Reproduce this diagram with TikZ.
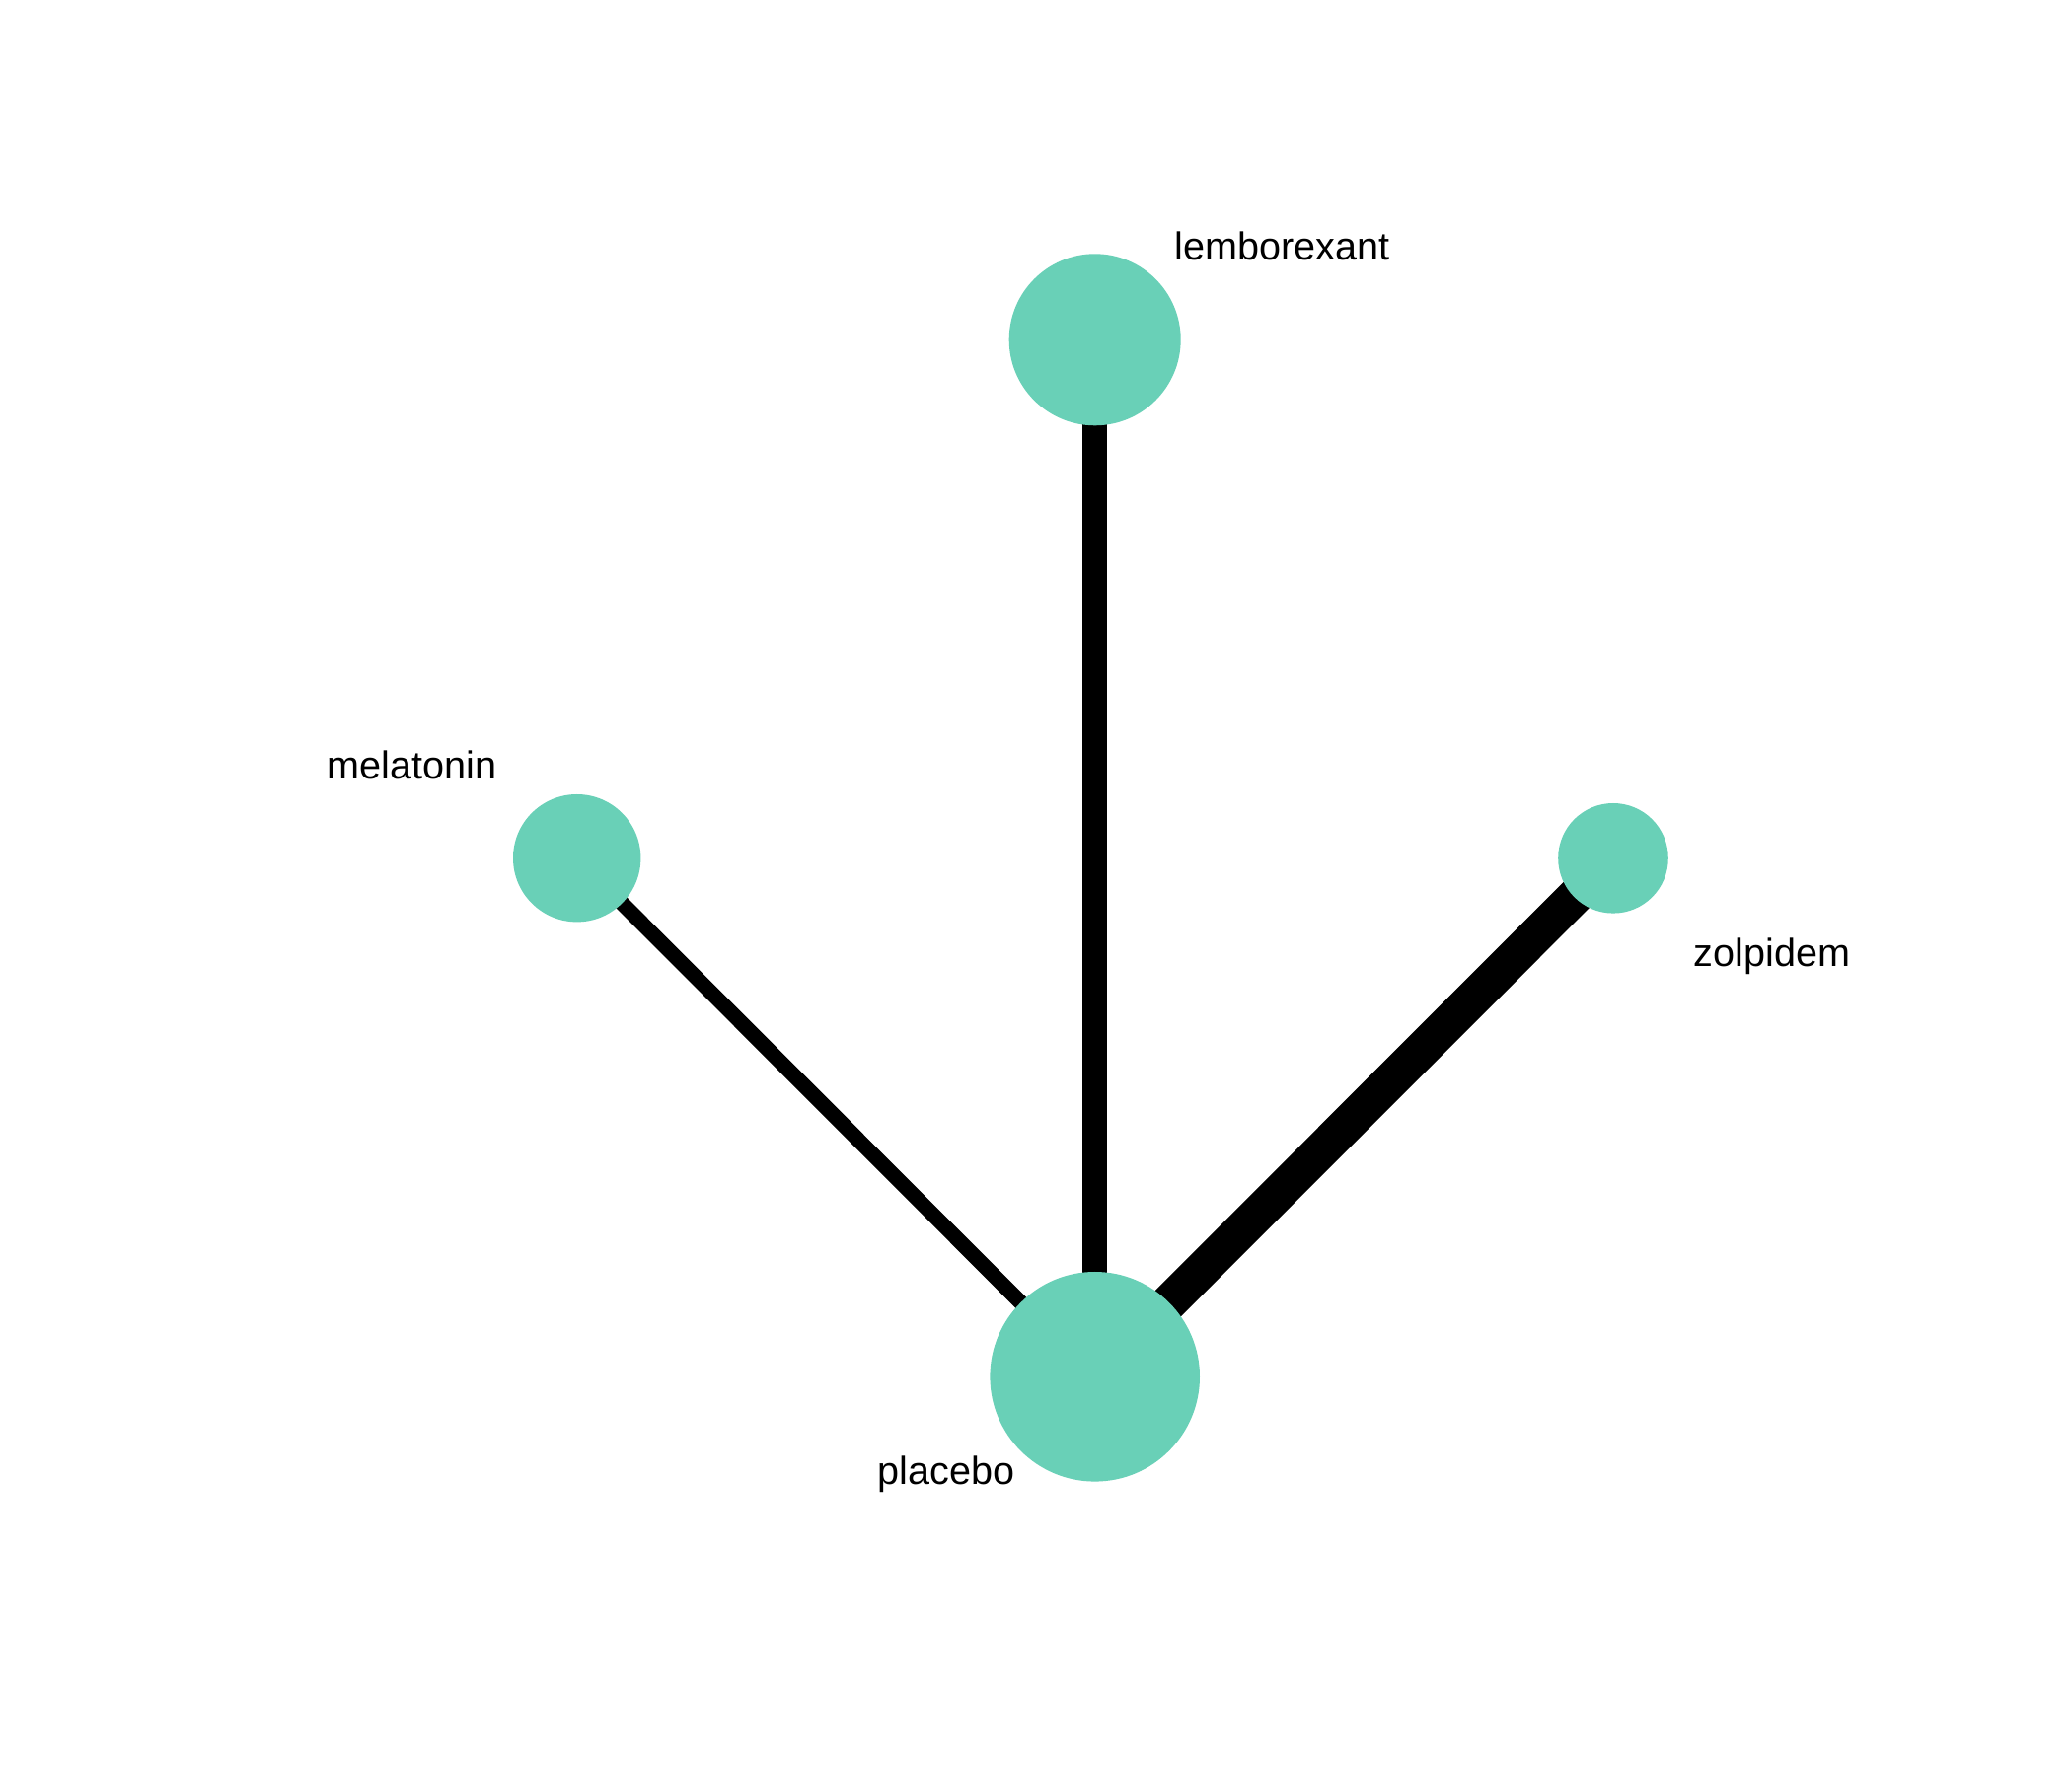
\documentclass[tikz,border=0pt]{standalone}
\usepackage{fontspec}
\setmainfont{Liberation Sans}
\usetikzlibrary{backgrounds}
\definecolor{nodefill}{RGB}{105,208,183}
\tikzset{
  trt/.style={circle, fill=nodefill, draw=none, inner sep=0pt, minimum size=#1},
  lbl/.style={anchor=base west, inner sep=0pt, font=\fontsize{11.26}{13}\selectfont},
  link/.style={draw=black, line width=#1},
}
\begin{document}
\begin{tikzpicture}
\useasboundingbox (0,0) rectangle (21,18);

% treatments
\node[trt=1.74cm]  (lemb) at (11.097,14.557) {};
\node[trt=1.294cm] (mela) at (5.847,9.303) {};
\node[trt=1.116cm] (zolp) at (16.35,9.302) {};
\node[trt=2.126cm] (plac) at (11.097,4.047) {};

% labels
\node[lbl] (lembl) at (11.90,15.36) {lemborexant};
\node[lbl] (melal) at (3.31,10.10) {melatonin};
\node[lbl] (zolpl) at (17.16,8.20) {zolpidem};
\node[lbl] (placl) at (8.89,2.95) {placebo};

% white sheet, then comparisons (widths by amount of evidence)
\begin{scope}[on background layer]
\fill[white] (0,0) rectangle (21,18);
\draw[link=0.253cm] (lemb.center) -- (plac.center);
\draw[link=0.153cm] (mela.center) -- (plac.center);
\draw[link=0.37cm]  (zolp.center) -- (plac.center);
\end{scope}
\end{tikzpicture}
\end{document}
